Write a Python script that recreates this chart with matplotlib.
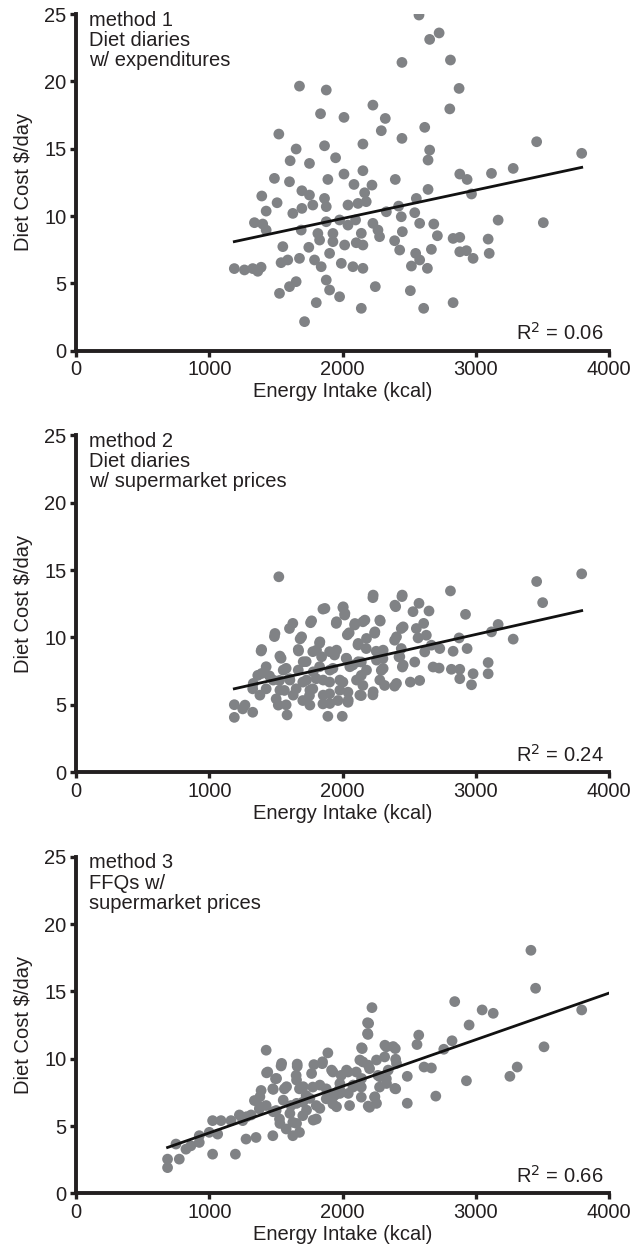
import matplotlib
matplotlib.use("Agg")
import matplotlib.pyplot as plt
import numpy as np

plt.rcParams['font.family'] = ['Liberation Sans', 'DejaVu Sans']

# method 1: diet diaries w/ expenditures
m1_kcal = [1677, 1878, 2228, 1835, 2011, 1522, 1652, 1865, 2153, 1948, 1607, 1752, 2011, 2153,
           1489, 1602, 1890, 2086, 1695, 1752, 1394, 1865, 2166, 1509, 1427, 1627, 1695, 1777,
           1878, 2041, 2116, 1339, 1401, 1427, 1690, 1878, 1978, 2041, 2098, 1552, 1747, 1828,
           1928, 2016, 2103, 1903, 1188, 1264, 1326, 1389, 1364, 1539, 1589, 1677, 1790, 1840,
           1991, 2078, 1652, 1602, 1527, 1878, 1903, 1978, 1803, 1715, 1928, 1815,
           2574, 2654, 2725, 2446, 2810, 2875, 2805, 2321, 2291, 2617, 2446, 3457, 3795, 2654,
           2642, 2880, 2935, 3118, 3281, 2396, 2221, 2642, 2968, 2554, 2178, 2421, 2329, 2441,
           2542, 2579, 2685, 3168, 3507, 2228, 2266, 2278, 2141, 2449, 2391, 2712, 2830, 2880,
           3093, 2429, 2667, 2880, 2930, 2980, 3101, 2549, 2579, 2517, 2637, 2153, 2153, 2246,
           2509, 2609, 2830, 2141]
m1_cost = [19.65, 19.36, 18.24, 17.6, 17.33, 16.09, 14.98, 15.22, 15.35, 14.33, 14.11, 13.91, 13.12, 13.37,
           12.8, 12.55, 12.72, 12.35, 11.88, 11.56, 11.49, 11.31, 11.73, 10.99, 10.37, 10.2, 10.57, 10.82,
           10.7, 10.82, 10.94, 9.51, 9.41, 8.96, 8.96, 9.58, 9.71, 9.33, 9.71, 7.73, 7.68, 8.22,
           8.1, 7.85, 8.02, 7.23, 6.1, 6.0, 6.1, 6.2, 5.9, 6.54, 6.74, 6.86, 6.74, 6.24,
           6.49, 6.24, 5.13, 4.76, 4.26, 5.25, 4.51, 4.01, 3.57, 2.16, 8.71, 8.71,
           24.93, 23.12, 23.6, 21.41, 21.59, 19.48, 17.96, 17.25, 16.34, 16.59, 15.77, 15.52, 14.66, 14.9,
           14.16, 13.12, 12.72, 13.17, 13.54, 12.72, 12.3, 11.98, 11.64, 11.31, 11.07, 10.74, 10.32, 9.95,
           10.25, 9.46, 9.41, 9.7, 9.51, 9.46, 8.96, 8.47, 8.72, 8.84, 8.17, 8.54, 8.34, 8.42,
           8.29, 7.48, 7.53, 7.35, 7.43, 6.86, 7.23, 7.23, 6.74, 6.29, 6.12, 7.85, 6.12, 4.76,
           4.46, 3.15, 3.57, 3.15]

# method 2: diet diaries w/ supermarket prices
m2_kcal = [1522, 1853, 2003, 2016, 1627, 1602, 1760, 1953, 2091, 1489, 1682, 2036, 1389, 1539,
           1670, 1828, 1777, 1903, 1940, 2116, 2028, 1577, 1727, 1828, 1928, 2078, 1427, 1364,
           1452, 1527, 1602, 1702, 1803, 1903, 2003, 1326, 1427, 1564, 1652, 1777, 1903, 2041,
           1188, 1251, 1326, 1188, 1502, 1577, 1702, 1752, 1853, 1966, 1890, 1998, 1584, 2041,
           3795, 3457, 3502, 2810, 2228, 2446, 2399, 2574, 2529, 2649, 2923, 2153, 2283, 2241,
           2441, 2554, 2609, 3168, 3118, 3281, 2629, 2391, 2567, 2875, 2178, 2253, 2441, 2667,
           2730, 2830, 2935, 2141, 2303, 2424, 2617, 2542, 2680, 2725, 2449, 2817, 2880, 3093,
           3093, 2980, 2880, 2968, 2141, 2291, 2316, 2391, 2509, 2579, 2153, 2141, 2228,
           2230, 2448, 2393, 1868, 2005, 2018, 1768, 1955, 2093, 2168, 2280, 1493, 1693, 2050,
           2243, 2405, 2455, 1393, 1668, 1830, 1805, 1955, 2118, 2180, 2305, 2430, 1530, 1705,
           1843, 2030, 2118, 2255, 1393, 1555, 1668, 1780, 1905, 2055, 2180, 2305, 2455, 1330,
           1480, 1605, 1730, 1855, 1980, 2105, 2280, 2405, 1380, 1530, 1630, 1755, 1855, 1980,
           2130, 2230, 2043, 1905, 1268, 1518, 1755]
m2_cost = [14.5, 12.1, 12.2, 11.66, 11.04, 10.66, 11.09, 11.04, 10.92, 10.06, 9.89, 10.19, 8.99, 8.45,
           8.99, 9.57, 8.94, 8.94, 8.69, 9.44, 8.45, 7.7, 8.2, 7.82, 7.7, 7.95, 7.82, 7.18,
           7.14, 6.8, 6.93, 6.68, 6.93, 6.68, 6.68, 6.18, 6.18, 6.06, 6.18, 6.18, 5.81, 5.93,
           5.0, 4.69, 4.44, 4.06, 5.43, 4.99, 5.31, 5.68, 5.06, 5.31, 4.14, 4.14, 4.24, 5.18,
           14.72, 14.15, 12.58, 13.45, 12.95, 13.03, 12.28, 12.53, 11.91, 11.96, 11.71, 11.16, 11.21, 10.31,
           10.66, 10.66, 11.04, 10.96, 10.41, 9.87, 10.16, 9.79, 9.96, 9.96, 9.17, 8.97, 9.17, 9.42,
           9.17, 8.97, 9.17, 8.17, 8.42, 8.55, 8.92, 8.17, 7.8, 7.72, 7.8, 7.63, 7.63, 8.13,
           7.3, 7.3, 6.93, 6.48, 7.18, 7.55, 6.43, 6.38, 6.68, 6.8, 6.43, 5.68, 5.73,
           13.14, 13.14, 12.39, 12.15, 12.27, 11.78, 11.23, 11.16, 11.03, 11.28, 11.28, 10.29, 10.04, 10.34,
           10.41, 10.04, 10.78, 9.1, 9.1, 9.67, 9.05, 9.05, 9.55, 9.92, 9.05, 8.56, 8.61, 8.19,
           8.56, 8.43, 8.19, 8.31, 7.32, 7.57, 7.57, 7.44, 7.57, 7.82, 7.57, 7.69, 7.94, 6.58,
           6.83, 6.83, 6.83, 6.83, 6.83, 6.83, 6.83, 6.58, 5.71, 6.08, 5.71, 6.08, 5.71, 6.08,
           5.71, 5.96, 5.34, 5.09, 4.97, 4.97, 4.97]

# method 3: FFQs w/ supermarket prices
m3_kcal = [1427, 1890, 1539, 1660, 1785, 1848, 1439, 1497, 1652, 1928, 1990, 2041, 2103, 1389,
           1477, 1564, 1677, 1777, 1878, 1978, 2078, 1339, 1427, 1502, 1614, 1702, 1803, 1928,
           2053, 1376, 1527, 1627, 1702, 1803, 1577, 1677, 1627, 1477, 1025, 1088, 1163, 1251,
           1000, 1063, 925, 925, 862, 1276, 1351, 1025, 1196, 750, 775, 687, 687, 825,
           1226, 1314, 1727, 1878, 1940,
           3414, 3449, 3795, 3512, 2842, 3048, 3131, 2221, 2196, 2191, 2950, 2572, 2559, 2822,
           2760, 2148, 2329, 2396, 2399, 2316, 2153, 2203, 2612, 2667, 3311, 3256, 2930, 2486,
           2329, 2266, 2141, 2278, 2399, 2241, 2203, 2141, 2486, 2700,
           2188, 2188, 1543, 1660, 1850, 2143, 2318, 2380, 1430, 1505, 1655, 1768, 1918, 2030,
           2130, 2193, 2255, 2343, 2405, 1480, 1580, 1705, 1830, 1980, 2080, 2143, 2280, 2330,
           2393, 1380, 1380, 1555, 1655, 1755, 1905, 1980, 2043, 2243, 2255, 2193, 1280, 1480,
           1605, 1730, 1830, 1955, 1530, 1655, 1780]
m3_cost = [10.63, 10.43, 9.46, 9.43, 9.56, 9.63, 9.01, 8.51, 8.76, 9.01, 8.76, 9.01, 9.01, 7.64,
           7.76, 7.76, 7.76, 7.89, 7.76, 7.76, 7.89, 6.89, 6.52, 6.15, 6.52, 6.77, 6.52, 6.64,
           6.52, 6.27, 5.52, 5.27, 5.77, 5.52, 4.78, 4.53, 4.28, 4.28, 5.4, 5.4, 5.4, 5.4,
           4.53, 4.4, 4.28, 3.78, 3.53, 4.03, 4.15, 2.91, 2.91, 3.66, 2.54, 2.54, 1.91, 3.28,
           5.82, 5.82, 7.27, 7.02, 7.27,
           18.05, 15.23, 13.62, 10.88, 14.24, 13.62, 13.37, 13.79, 12.62, 11.8, 12.5, 11.75, 11.05, 11.33,
           10.7, 10.75, 10.88, 10.75, 9.96, 10.13, 9.76, 9.26, 9.38, 9.31, 9.38, 8.69, 8.36, 8.69,
           8.51, 8.76, 7.89, 7.89, 7.76, 7.14, 6.39, 7.14, 6.69, 7.22,
           12.67, 11.87, 9.65, 9.6, 9.77, 10.81, 11.0, 10.9, 8.95, 8.53, 8.41, 8.9, 9.15, 9.15,
           9.9, 9.52, 9.9, 9.15, 9.65, 7.72, 7.92, 7.92, 8.04, 8.16, 8.04, 8.53, 8.66, 8.16,
           7.79, 7.17, 6.43, 6.92, 6.68, 7.05, 7.17, 7.42, 7.42, 7.17, 6.68, 6.48, 5.69, 6.06,
           5.93, 6.18, 6.31, 6.43, 5.19, 5.19, 5.44]

# fitted lines: slope, intercept, x start, x end
fit1 = (0.002115, 5.59, 1188, 3795)
fit2 = (0.002225, 3.54, 1188, 3795)
fit3 = (0.00346, 1.03, 687, 4000)

labels = ["method 1\nDiet diaries\nw/ expenditures",
          "method 2\nDiet diaries\nw/ supermarket prices",
          "method 3\nFFQs w/\nsupermarket prices"]
r2 = ["0.06", "0.24", "0.66"]

x_ticks = [0, 1000, 2000, 3000, 4000]
y_ticks = [0, 5, 10, 15, 20, 25]

ink = '#231f20'
dot = '#808285'
fs = 14.5

fig = plt.figure(figsize=(6.33, 12.58), dpi=100)
bottoms = [0.7212, 0.3863, 0.0514]
panels = [(m1_kcal, m1_cost, fit1), (m2_kcal, m2_cost, fit2), (m3_kcal, m3_cost, fit3)]

for i, (xs, ys, fit) in enumerate(panels):
    ax = fig.add_axes([0.1201, bottoms[i], 0.842, 0.2676])
    ax.scatter(xs, ys, s=60, color=dot, edgecolors='none', zorder=2)
    k, b, x0, x1 = fit
    lx = np.array([x0, x1])
    ax.plot(lx, k * lx + b, color='#111111', lw=2.0, zorder=3)

    ax.set_xlim(0, 4000)
    ax.set_ylim(0, 25)
    ax.set_xticks(x_ticks)
    ax.set_yticks(y_ticks)
    for s in ['top', 'right']:
        ax.spines[s].set_visible(False)
    for s in ['left', 'bottom']:
        ax.spines[s].set_linewidth(2.8)
        ax.spines[s].set_color(ink)
    ax.tick_params(direction='out', length=4, width=2.4, colors=ink,
                   labelsize=fs, labelcolor=ink, pad=3)
    ax.set_xlabel("Energy Intake (kcal)", fontsize=fs, color=ink, labelpad=2)
    ax.set_ylabel("Diet Cost $/day", fontsize=fs, color=ink, labelpad=8)

    ax.text(0.025, 1.01, labels[i], transform=ax.transAxes, ha='left', va='top',
            fontsize=fs, color=ink, linespacing=1.08)
    ax.text(0.99, 0.02, "R$^2$ = " + r2[i], transform=ax.transAxes, ha='right', va='bottom',
            fontsize=fs, color=ink)

fig.savefig("out.png", dpi=100)
